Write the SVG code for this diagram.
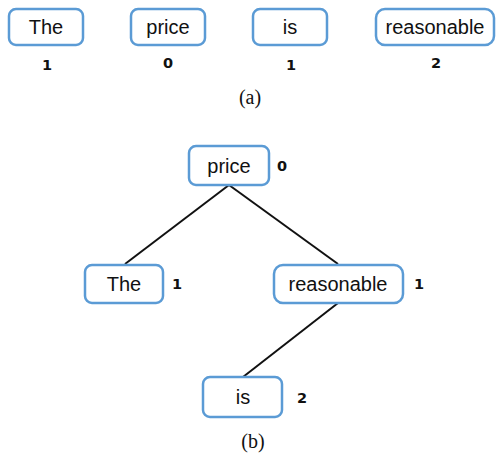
<svg xmlns="http://www.w3.org/2000/svg" width="496" height="455" viewBox="0 0 496 455">
<style>
.box{fill:#fff;stroke:#5b9bd5;stroke-width:2.5}
.w{font-family:"Liberation Sans",Arial,sans-serif;font-size:20px;fill:#111;text-anchor:middle}
.n{font-family:"DejaVu Sans","Liberation Sans",sans-serif;font-weight:bold;font-size:14.5px;fill:#111;text-anchor:middle}
.cap{font-family:"Liberation Serif","Times New Roman",serif;font-size:20px;fill:#111;text-anchor:middle}
.e{stroke:#111;stroke-width:2;fill:none}
</style>
<rect width="496" height="455" fill="#fff"/>
<g id="a-the"><rect class="box" x="9" y="9" width="74" height="36" rx="7"/><text class="w" x="46" y="34">The</text><text class="n" x="47" y="70">1</text></g>
<g id="a-price"><rect class="box" x="131" y="9" width="74" height="36" rx="7"/><text class="w" x="168" y="34">price</text><text class="n" x="168" y="68">0</text></g>
<g id="a-is"><rect class="box" x="253" y="9" width="74" height="36" rx="7"/><text class="w" x="290" y="34">is</text><text class="n" x="291" y="70">1</text></g>
<g id="a-reasonable"><rect class="box" x="376" y="9" width="118" height="36" rx="9"/><text class="w" x="435" y="34">reasonable</text><text class="n" x="436" y="68">2</text></g>
<text class="cap" x="250" y="104">(a)</text>
<g id="connectors">
<line class="e" x1="229" y1="185" x2="125" y2="264"/>
<line class="e" x1="229" y1="185" x2="338" y2="264"/>
<line class="e" x1="338" y1="303" x2="243" y2="377"/>
</g>
<g id="b-price"><rect class="box" x="189" y="146" width="80" height="39" rx="7"/><text class="w" x="229" y="173">price</text><text class="n" x="282" y="171">0</text></g>
<g id="b-the"><rect class="box" x="85" y="265" width="78" height="38" rx="7"/><text class="w" x="124" y="291">The</text><text class="n" x="177" y="289">1</text></g>
<g id="b-reasonable"><rect class="box" x="274" y="265" width="129" height="38" rx="9"/><text class="w" x="338" y="291">reasonable</text><text class="n" x="419" y="289">1</text></g>
<g id="b-is"><rect class="box" x="203" y="377" width="79" height="40" rx="7"/><text class="w" x="243" y="404">is</text><text class="n" x="302" y="403">2</text></g>
<text class="cap" x="253" y="448">(b)</text>
</svg>
